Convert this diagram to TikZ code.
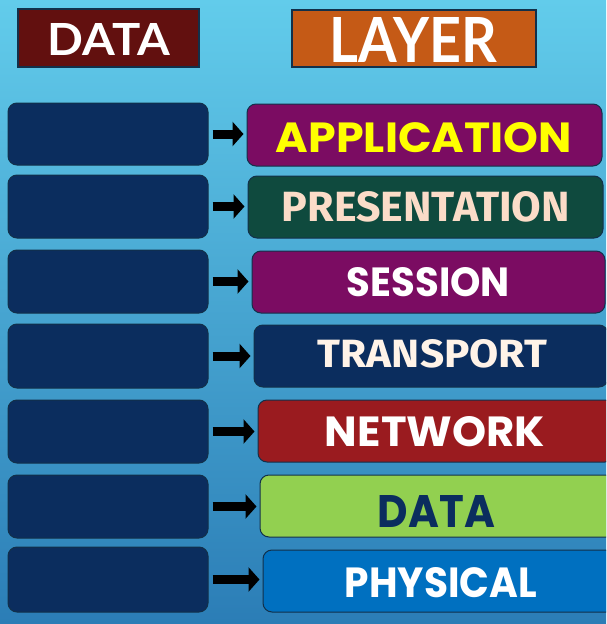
\documentclass[tikz,border=0pt]{standalone}
\usepackage{fontspec}
\usetikzlibrary{arrows.meta}
\newfontfamily\popfont{Poppins}
\newfontfamily\latofont{Lato}
\newfontfamily\firafont{Fira Sans}

\definecolor{bgtop}{HTML}{62CCEB}
\definecolor{bgmid}{HTML}{3FA3D2}
\definecolor{bgbot}{HTML}{2B7DB6}
\definecolor{navy}{HTML}{0B2D5E}
\definecolor{edge}{HTML}{12304A}
\definecolor{maroon}{HTML}{62100F}
\definecolor{rust}{HTML}{C55A16}
\definecolor{plum}{HTML}{7B0C62}
\definecolor{pine}{HTML}{0F4A3E}
\definecolor{brick}{HTML}{9A1B1F}
\definecolor{lime}{HTML}{92D050}
\definecolor{azure}{HTML}{0070C0}
\definecolor{peach}{HTML}{FBDCC8}
\definecolor{cream}{HTML}{FFF3E8}
\definecolor{lemon}{HTML}{FFFF00}

% fixed-size caption: width, cap height, text
\newcommand\fitlbl[3]{\resizebox{#1}{#2}{#3}}

\begin{document}
\begin{tikzpicture}[x=1pt,y=-1pt,
  header/.style={draw=edge, line width=1.2pt, inner sep=0pt},
  databox/.style={draw=edge, line width=1pt, fill=navy, rounded corners=9pt,
    minimum width=200pt, inner sep=0pt},
  layerbox/.style={draw=edge, line width=1pt, rounded corners=9pt,
    minimum height=62pt, inner sep=0pt},
  lbl/.style={inner sep=0pt, anchor=center},
  fatarrow/.style={draw=black, line width=9pt,
    -{Triangle[length=11pt,width=24pt]}, shorten <=4pt, shorten >=3pt}]

% background
\clip (0,0) rectangle (606,624);
\shade[top color=bgtop, middle color=bgmid, bottom color=bgbot] (0,0) rectangle (606,624);

% column headers
\node[header, fill=maroon, minimum width=181pt, minimum height=58pt] (hd) at (108.5,38) {};
\node[header, fill=rust, minimum width=244pt, minimum height=57pt] (hl) at (414,38.5) {};
\node[lbl, text=white] (hdt) at (109,39) {\fitlbl{122pt}{32pt}{\latofont\bfseries DATA}};
\node[lbl, text=white] (hlt) at (413.5,39.5) {\fitlbl{167pt}{45pt}{\latofont\bfseries LAYER}};

% data column
\node[databox, minimum height=62pt] (L1) at (108,134) {};
\node[databox, minimum height=63pt] (L2) at (108,206.5) {};
\node[databox, minimum height=63pt] (L3) at (108,281.5) {};
\node[databox, minimum height=64pt] (L4) at (108,356) {};
\node[databox, minimum height=63pt] (L5) at (108,431.5) {};
\node[databox, minimum height=63pt] (L6) at (108,506.5) {};
\node[databox, minimum height=65pt] (L7) at (108,579.5) {};

% layer column
\node[layerbox, fill=plum,  minimum width=355pt] (R1) at (424.5,135) {};
\node[layerbox, fill=pine,  minimum width=355pt] (R2) at (425.5,207) {};
\node[layerbox, fill=plum,  minimum width=353pt] (R3) at (428.5,282) {};
\node[layerbox, fill=navy,  minimum width=354pt] (R4) at (431,356) {};
\node[layerbox, fill=brick, minimum width=356pt] (R5) at (436,431) {};
\node[layerbox, fill=lime,  minimum width=356pt] (R6) at (438,506) {};
\node[layerbox, fill=azure, minimum width=355pt] (R7) at (440.5,581) {};

% layer names
\node[lbl, text=lemon] (t1) at (424,138) {\fitlbl{296pt}{30pt}{\popfont\bfseries APPLICATION}};
\node[lbl, text=peach] (t2) at (426,207) {\fitlbl{288pt}{30pt}{\firafont\bfseries PRESENTATION}};
\node[lbl, text=white] (t3) at (428.5,282.5) {\fitlbl{163pt}{29pt}{\popfont\bfseries SESSION}};
\node[lbl, text=cream] (t4) at (432.5,354) {\fitlbl{229pt}{28pt}{\firafont\bfseries TRANSPORT}};
\node[lbl, text=white] (t5) at (435,432) {\fitlbl{220pt}{30pt}{\popfont\bfseries NETWORK}};
\node[lbl, text=navy]  (t6) at (436.5,511) {\fitlbl{117pt}{32pt}{\popfont\bfseries DATA}};
\node[lbl, text=white] (t7) at (441,583) {\fitlbl{192pt}{30pt}{\popfont\bfseries PHYSICAL}};

% arrows from data to layer
\foreach \i in {1,...,7}
  \draw[fatarrow] (L\i.east) -- (L\i.east -| R\i.west);

\end{tikzpicture}
\end{document}
